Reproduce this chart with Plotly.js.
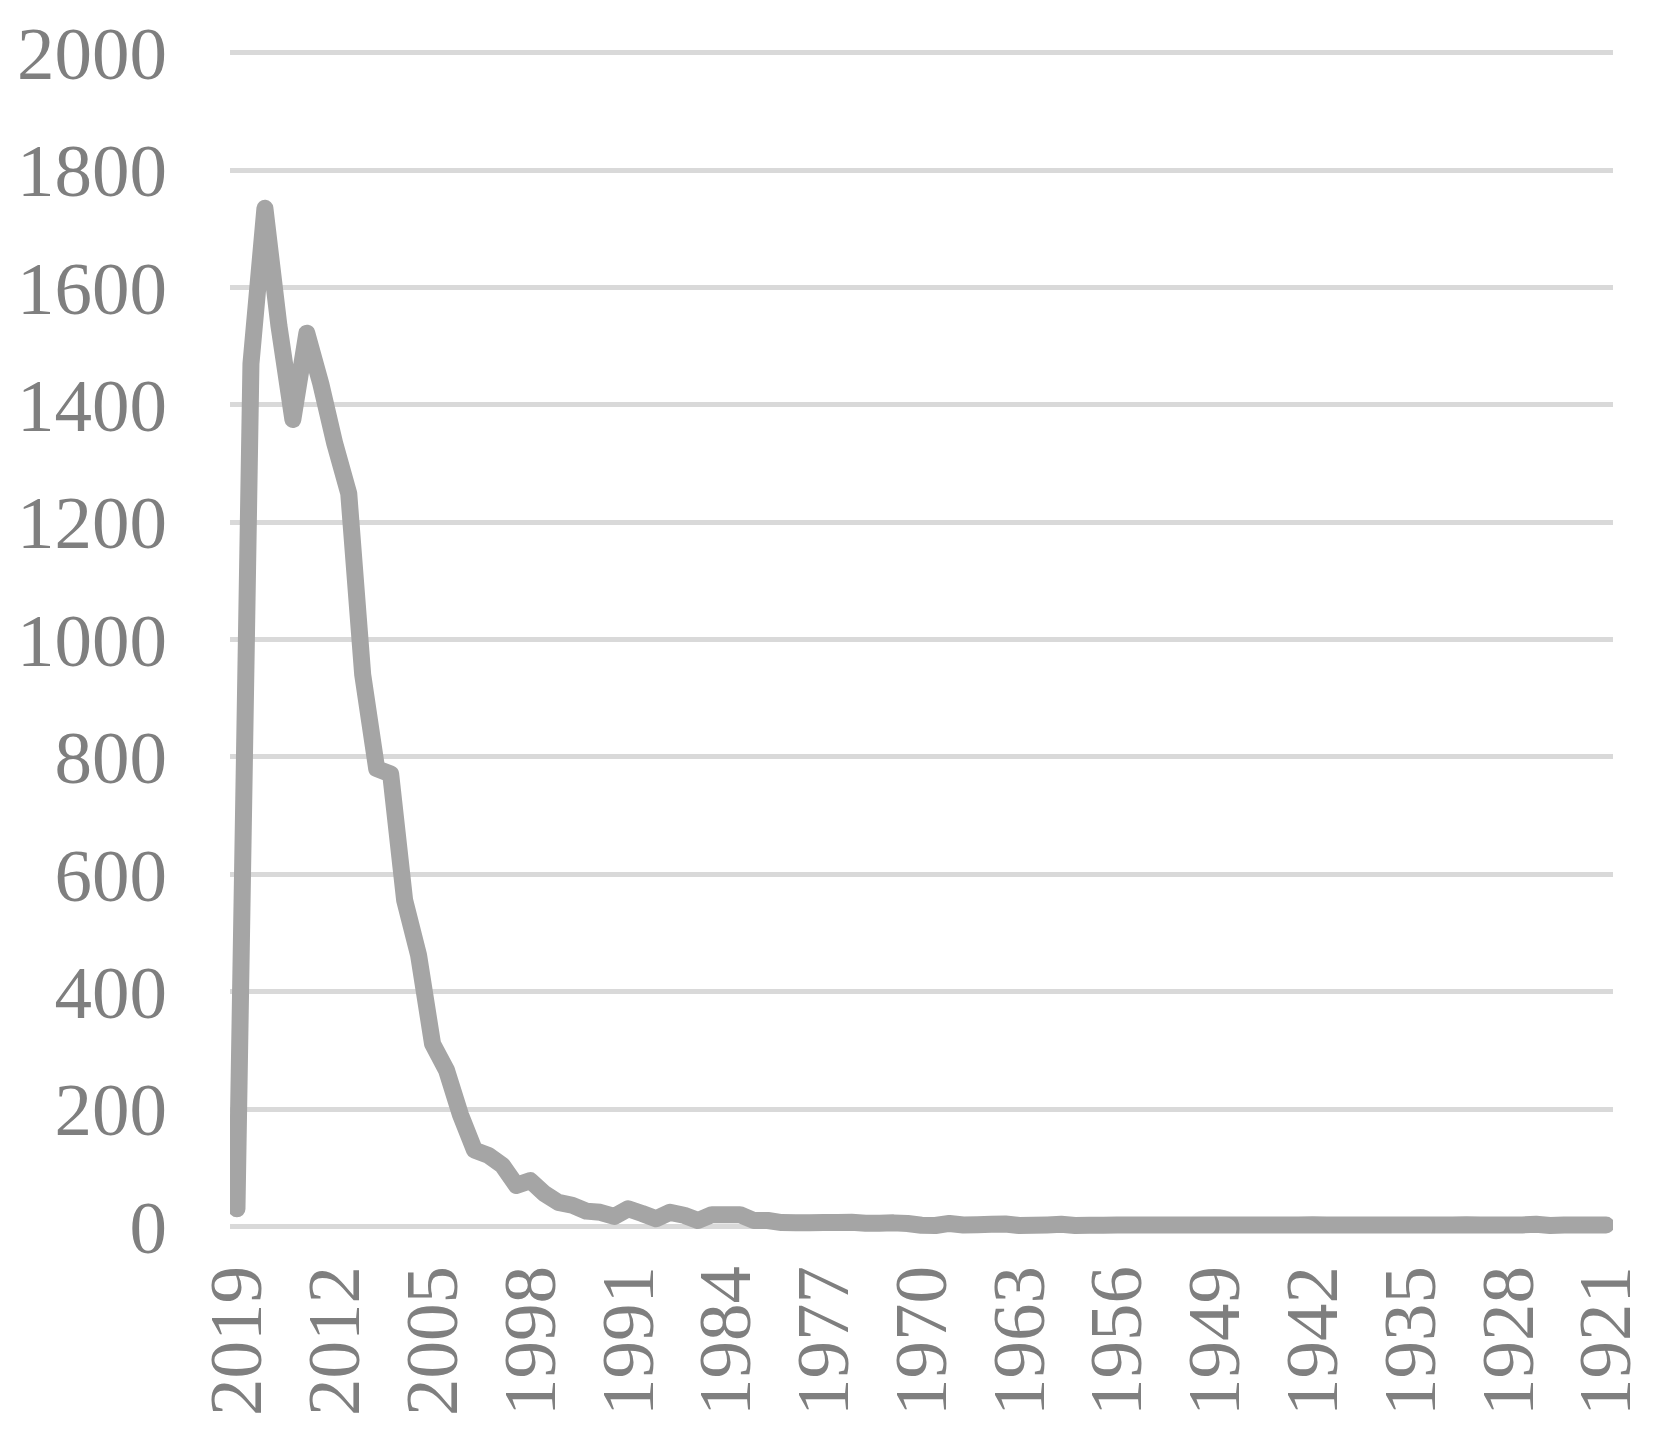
<!DOCTYPE html>
<html>
<head>
<meta charset="utf-8">
<script src="https://cdn.plot.ly/plotly-3.0.1.min.js"></script>
<style>
html,body{margin:0;padding:0;background:#fff;}
.js-line{stroke-linecap:round !important;stroke-linejoin:round !important;}
</style>
</head>
<body>
<div id="chart" style="width:1653px;height:1437px;"></div>
<script>
// Years, from 2019 back to 1921
const years = [];
for (let y = 2019; y >= 1921; y--) years.push(y);

// Values, in the same order as years (2019 ... 1921)
const values = [
  30, 1470, 1735, 1535, 1375, 1522, 1436, 1334, 1249, 940,
  780, 771, 556, 462, 311, 266, 190, 130, 121, 104,
  70, 78, 56, 41, 36, 26, 24, 17, 30, 22,
  13, 24, 19, 10, 20, 20, 20, 10, 10, 6.5,
  6, 6, 6.5, 6.5, 7, 5.5, 5.5, 6, 5, 2,
  1.5, 5, 2.5, 3, 3.5, 4, 1.5, 2, 2.5, 3.5,
  1.5, 2, 2, 2.5, 2.5, 2.5, 2.5, 2.5, 2.5, 2.5,
  2.5, 2.5, 2.5, 2.5, 2.5, 2.5, 2.5, 3, 2.5, 2.5,
  2.5, 2.5, 2.5, 2.5, 2.5, 2.5, 2.5, 2.5, 3, 2.5,
  2.5, 2.5, 2.5, 3.5, 1.5, 2.5, 2.5, 2.5, 2.5
];

const xTickStart = 1921;
const xTickStep = 7;
const yTickStep = 200;

const tickFont = {family: '"Liberation Serif", "Times New Roman", serif', size: 75, color: '#7f7f7f'};

const trace = {
  x: years,
  y: values,
  type: 'scatter',
  mode: 'lines',
  line: {color: '#a5a5a5', width: 17, simplify: false},
  hoverinfo: 'skip'
};

const layout = {
  width: 1653,
  height: 1437,
  margin: {l: 230, r: 40, t: 41, b: 193, pad: 0},
  paper_bgcolor: '#ffffff',
  plot_bgcolor: '#ffffff',
  showlegend: false,
  xaxis: {
    type: 'linear',
    range: [2019.5, 1920.5],
    tick0: xTickStart,
    dtick: xTickStep,
    tickangle: -90,
    ticks: '',
    showgrid: false,
    zeroline: false,
    showline: false,
    tickfont: tickFont,
    ticklabelstandoff: 6
  },
  yaxis: {
    range: [-30, 2020],
    tick0: 0,
    dtick: yTickStep,
    ticks: '',
    showgrid: true,
    gridcolor: '#d9d9d9',
    gridwidth: 5,
    zeroline: false,
    showline: false,
    tickfont: tickFont,
    ticklabelstandoff: 62
  }
};

Plotly.newPlot('chart', [trace], layout, {staticPlot: true, displayModeBar: false});
</script>
</body>
</html>
